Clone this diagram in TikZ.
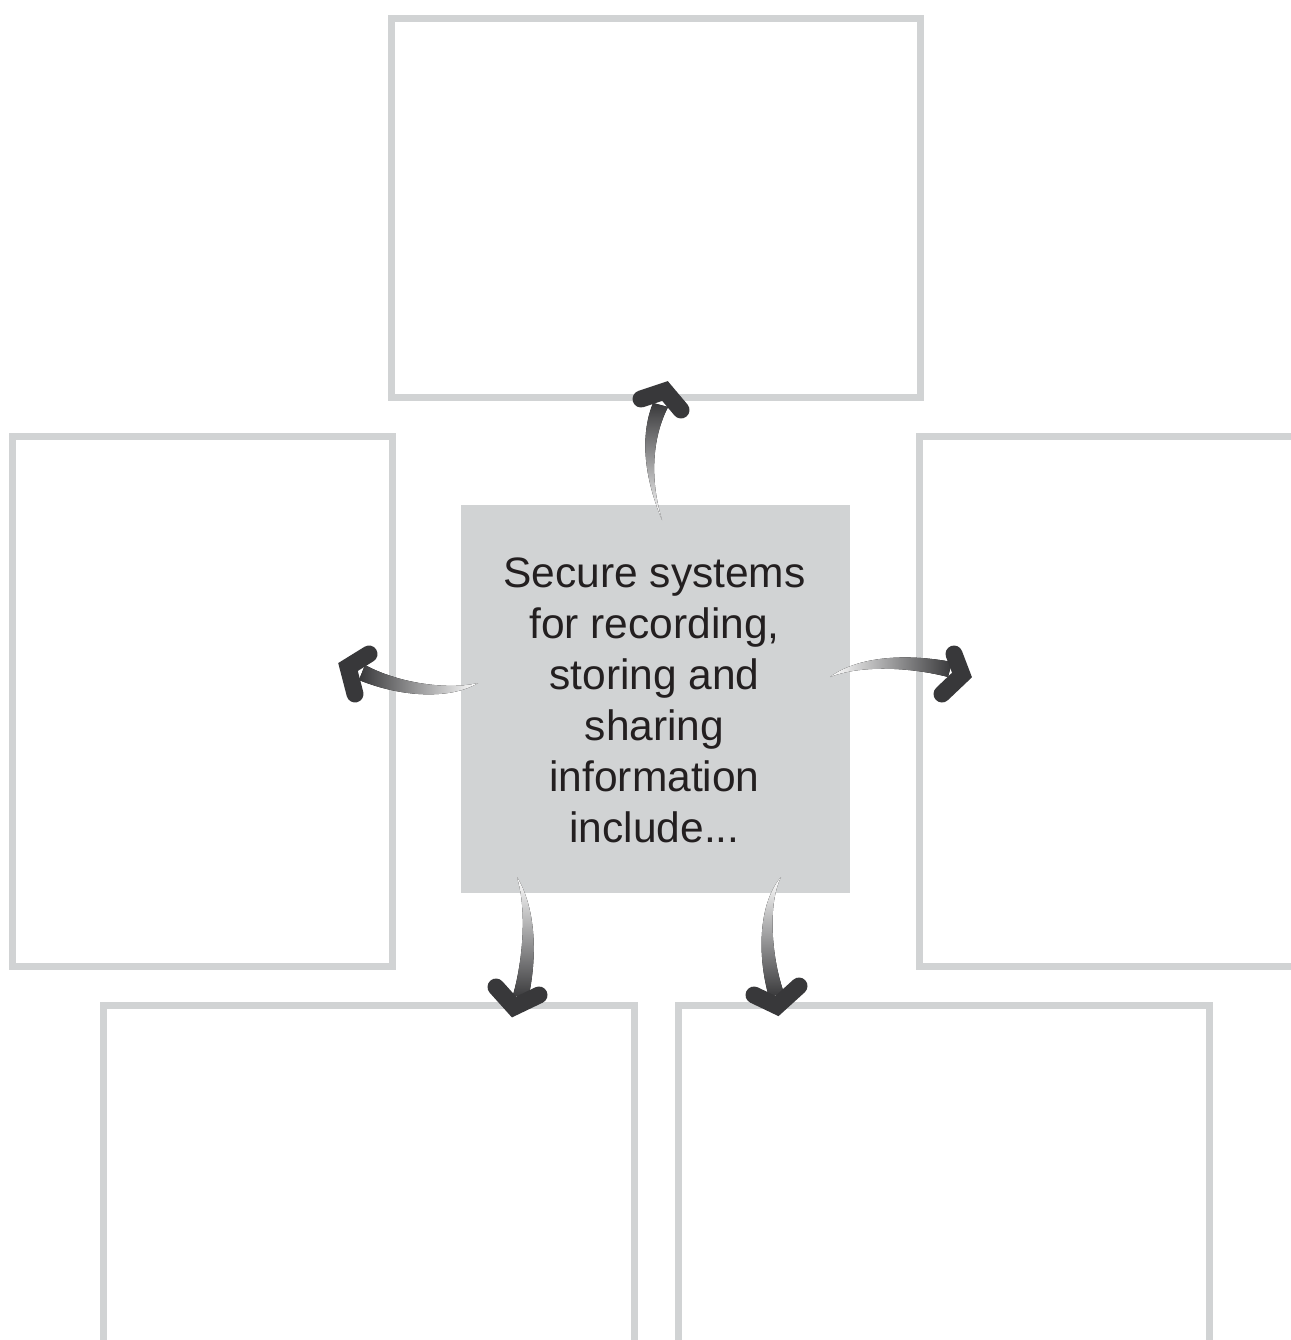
\documentclass[tikz,border=0pt]{standalone}
\usepackage{fontspec}
\setmainfont{Liberation Sans}
\definecolor{boxgray}{HTML}{D1D3D4}
\definecolor{arrowdark}{HTML}{38383A}
\definecolor{txt}{HTML}{231F20}
\begin{document}
\begin{tikzpicture}[x=1pt,y=-1pt,
  box/.style={draw=boxgray, line width=7pt, inner sep=0pt, outer sep=0pt},
  centerbox/.style={fill=boxgray, inner sep=0pt, outer sep=0pt},
  shaft/.style={top color=arrowdark, bottom color=white, draw=none},
  chevron/.style={draw=arrowdark, line width=17pt, line cap=round, line join=miter}]
\useasboundingbox (0,0) rectangle (1290,1340);
% boxes
\node[box, minimum width=529pt, minimum height=378pt] (top) at (655.5,208) {};
\node[box, minimum width=380pt, minimum height=530pt] (left) at (202,701) {};
\node[box, minimum width=400pt, minimum height=530pt] (right) at (1119,701) {};
\node[box, minimum width=531pt, minimum height=420pt] (botleft) at (368.5,1215) {};
\node[box, minimum width=531pt, minimum height=420pt] (botright) at (943.5,1215) {};
% centre
\node[centerbox, minimum width=389pt, minimum height=388pt] (center) at (655.5,699) {};
\node[text=txt, align=center, font=\fontsize{42.5}{51}\selectfont] (label) at (654.5,700)
  {Secure systems\\for recording,\\storing and\\sharing\\information\\include...};
% arrows: top
\fill[shaft] (662,520) .. controls (647,470) and (656,430) .. (668,407) -- (653,403) .. controls (642,430) and (641,470) .. (662,520);
\draw[chevron] (641,399) -- (665,391) -- (681,410);
% left
\fill[shaft, shading angle=90] (478,683) .. controls (450,690) and (400,684) .. (365,665) -- (359,680) .. controls (400,697) and (450,700) .. (478,683);
\draw[chevron] (369,654) -- (348,667) -- (355,694);
% right
\fill[shaft, shading angle=-90] (830,677) .. controls (860,655) and (910,654) .. (952,662) -- (948,677) .. controls (910,667) and (860,665) .. (830,677);
\draw[chevron] (954,654) -- (962,675) -- (942,694);
% bottom left
\fill[shaft, shading angle=180] (517,877) .. controls (537,910) and (537,960) .. (528,999) -- (513,995) .. controls (523,960) and (527,910) .. (517,877);
\draw[chevron] (496,987) -- (514,1007) -- (539,995);
% bottom right
\fill[shaft, shading angle=180] (781,877) .. controls (767,905) and (772,960) .. (784,993) -- (769,997) .. controls (758,960) and (757,905) .. (781,877);
\draw[chevron] (754,995) -- (777,1006) -- (799,986);
\end{tikzpicture}
\end{document}
